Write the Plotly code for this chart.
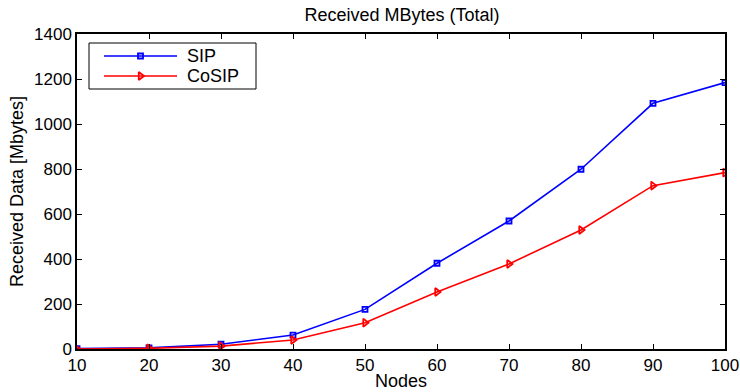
import plotly.graph_objects as go

nodes = [10, 20, 30, 40, 50, 60, 70, 80, 90, 100]
sip = [2, 5, 21, 62, 176, 381, 569, 799, 1092, 1184]
cosip = [0, 3, 13, 40, 117, 253, 378, 529, 726, 784]

series_names = ["SIP", "CoSIP"]
series_colors = ["#0000ff", "#ff0000"]
series_symbols = ["square-open", "triangle-right-open"]
series_sizes = [5, 7]

x_ticks = [10, 20, 30, 40, 50, 60, 70, 80, 90, 100]
y_ticks = [0, 200, 400, 600, 800, 1000, 1200, 1400]

font_family = "Liberation Sans, Arial, sans-serif"

fig = go.Figure()
for name, ys, color, symbol, size in zip(series_names, [sip, cosip], series_colors,
                                          series_symbols, series_sizes):
    fig.add_trace(go.Scatter(
        x=nodes, y=ys, name=name, mode="lines+markers", showlegend=False,
        line=dict(color=color, width=1.6),
        marker=dict(symbol=symbol, size=size, color=color, line=dict(width=1.8)),
    ))

# Boxed legend drawn on an overlay axis measured in pixels from the plot's top-left
leg_x0, leg_x1, leg_y0, leg_y1 = 12, 179, 9, 55
line_x0, line_x1, text_x = 27, 100, 108
row_y = [22, 42]

fig.add_shape(type="rect", xref="x2", yref="y2", x0=leg_x0, x1=leg_x1, y0=leg_y0, y1=leg_y1,
              line=dict(color="black", width=1), fillcolor="white", layer="below")
for name, color, symbol, size, ry in zip(series_names, series_colors, series_symbols,
                                         series_sizes, row_y):
    fig.add_trace(go.Scatter(
        x=[line_x0, line_x1], y=[ry, ry], xaxis="x2", yaxis="y2", mode="lines",
        showlegend=False, hoverinfo="skip", line=dict(color=color, width=1.6),
    ))
    fig.add_trace(go.Scatter(
        x=[(line_x0 + line_x1) / 2], y=[ry], xaxis="x2", yaxis="y2", mode="markers",
        showlegend=False, hoverinfo="skip",
        marker=dict(symbol=symbol, size=size, color=color, line=dict(width=1.8)),
    ))
    fig.add_annotation(x=text_x, y=ry, xref="x2", yref="y2", text=name, showarrow=False,
                       xanchor="left", yanchor="middle",
                       font=dict(family=font_family, size=18, color="black"))

axis_common = dict(
    showline=True, linecolor="black", linewidth=1.5, mirror="ticks",
    ticks="inside", ticklen=5, tickwidth=1, tickcolor="black",
    showgrid=False, zeroline=False, automargin=False,
    tickfont=dict(family=font_family, size=17, color="black"),
)

fig.update_layout(
    width=740, height=392,
    margin=dict(l=77, r=15, t=34, b=43),
    paper_bgcolor="white", plot_bgcolor="white",
    title=dict(text="Received MBytes (Total)", x=402 / 740, xanchor="center",
               y=1 - 15 / 392, yanchor="middle",
               font=dict(family=font_family, size=18, color="black")),
    xaxis=dict(range=[10, 100], tickvals=x_ticks, ticktext=[str(v) for v in x_ticks],
               title=dict(text="Nodes", standoff=0,
                          font=dict(family=font_family, size=18, color="black")),
               **axis_common),
    yaxis=dict(range=[0, 1400], tickvals=y_ticks, ticktext=[str(v) for v in y_ticks],
               title=dict(text="Received Data [Mbytes]", standoff=6,
                          font=dict(family=font_family, size=18, color="black")),
               **axis_common),
    xaxis2=dict(overlaying="x", range=[0, 648], visible=False, fixedrange=True),
    yaxis2=dict(overlaying="y", range=[315, 0], visible=False, fixedrange=True),
    showlegend=False,
)

fig.write_html("out.html")
